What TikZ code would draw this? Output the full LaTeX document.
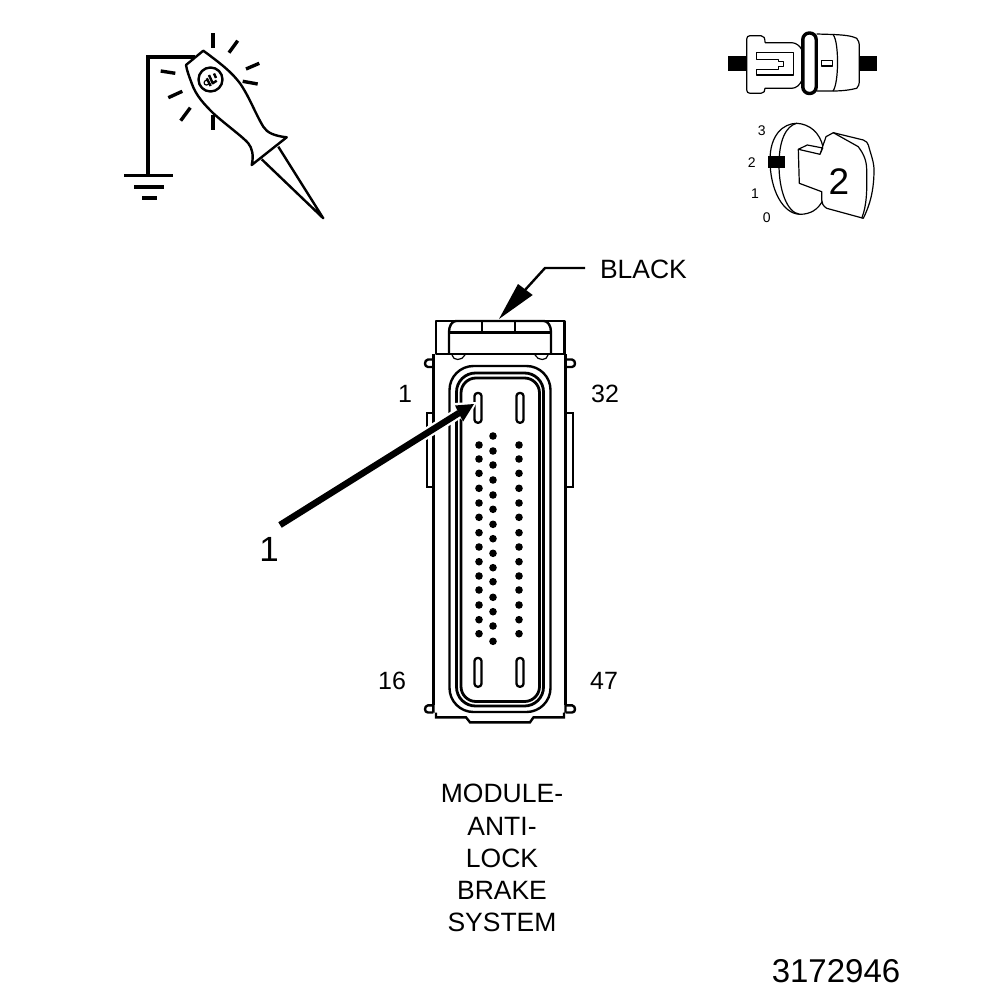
\documentclass[tikz,border=0pt]{standalone}
\usepackage{fontspec}
\setmainfont{Liberation Sans}
\tikzset{
  thinln/.style={draw=black,line width=1.2pt},
  medln/.style={draw=black,line width=2.4pt},
  heavyln/.style={draw=black,line width=3.4pt},
  ray/.style={draw=black,line width=3.4pt},
  pin/.style={circle,fill=black,minimum size=7.6pt,inner sep=0pt,outer sep=0pt},
  slot/.style={draw=black,line width=2.3pt,fill=white,rounded corners=3pt},
  lab/.style={inner sep=0pt,outer sep=0pt,align=center},
  fs/.style={font=\fontsize{#1}{#1}\selectfont},
  block/.style={fill=black,draw=none}
}
\begin{document}
\begin{tikzpicture}[x=1pt,y=-1pt,line join=round]
\useasboundingbox (0,0) rectangle (1008,1000);
\fill[white] (0,0) rectangle (1008,1000);

% --- test lamp ---
\draw[heavyln,line join=miter] (148,175.7) -- (148,57) -- (195,57);
\draw[heavyln] (124,175.7) -- (173,175.7);
\draw[heavyln] (134,187) -- (164,187);
\draw[heavyln] (142,198) -- (157,198);
\draw[medln,fill=white] (186,65) -- (203.3,50.7)
  .. controls (225,66.7) and (232,73) .. (240,83.3)
  .. controls (250,98) and (255,113) .. (263.3,126.7)
  .. controls (267,133) and (275,136) .. (286.7,137.3)
  -- (251.7,165)
  .. controls (254,155) and (252,148) .. (248.3,143.3)
  .. controls (243,137) and (225,124) .. (213.3,113.3)
  .. controls (205,105) and (196,96) .. (191.7,83.3)
  .. controls (189,76) and (187,71) .. (186,65) -- cycle;
\draw[medln] (278.3,146.7) -- (323.3,218.3) -- (261.7,159.3);
\draw[medln] (210.5,79.5) circle[radius=12];
\draw[medln] (209,75) -- (212.7,83.3) -- (216.7,80.7);
\draw[medln] (206.7,78.3) -- (210.7,86);
\draw[medln] (214,73.5) -- (216,78);
\draw[thinln] (206.5,82.7) circle[radius=2.4];
\foreach \xa/\ya/\xb/\yb in {213/33.3/213/48.3, 237.7/40.7/229/52.7, 259.3/63.3/246/69,
  257.7/84/242.7/81.3, 160.7/71/175.3/73.3, 182.3/91.3/168.3/97.7,
  190.3/107.7/180.7/120.7, 213/115/213/130}
  \draw[ray] (\xa,\ya) -- (\xb,\yb);

% --- connector icon ---
\fill[block] (728,56) rectangle (747,70.7);
\fill[block] (859,56) rectangle (877,70.7);
\draw[thinln] (765,42.7) .. controls (765,38) and (764,35.7) .. (761,35.7) -- (750,35.7)
  .. controls (748,35.7) and (746.7,37) .. (746.7,39) -- (746.7,90)
  .. controls (746.7,92) and (748,93.3) .. (750,93.3) -- (761,93.3)
  .. controls (764,93.3) and (765,91) .. (765,88.3) -- (791.7,88.3)
  .. controls (796,88.3) and (800,85) .. (802,80);
\draw[thinln] (765,42.7) -- (791.7,42.7) .. controls (796,42.7) and (800,46) .. (802,50);
\draw[thinln] (756.7,52.7) -- (793.3,52.7) -- (793.3,75) -- (756.7,75) -- (756.7,69.3)
  -- (778.3,69.3) -- (778.3,66.7) -- (783.3,66.7) -- (783.3,61.7) -- (778.3,61.7)
  -- (778.3,59.3) -- (756.7,59.3) -- cycle;
\draw[thinln,fill=white] (816.7,34) -- (833,34.5) .. controls (845,35) and (852,36) .. (856.7,38.3)
  .. controls (858.5,40) and (859.3,43) .. (859.3,46.7) -- (859.3,80)
  .. controls (859.3,84) and (858.5,87) .. (856.7,88.3)
  .. controls (850,90) and (842,91) .. (833,91) -- (816.7,91);
\draw[thinln] (833.3,35) .. controls (839,42) and (839,83) .. (833,91);
\draw[thinln] (821.7,60.7) rectangle (832.7,66);
\draw[heavyln,fill=white,rounded corners=6.5pt] (802.8,33) rectangle (816.2,93.5);

% --- key icon ---
\draw[thinln] (796.7,123.3) .. controls (783,123.5) and (770,135) .. (770,160)
  .. controls (770,190) and (783,214) .. (800,214.3);
\draw[thinln,fill=white] (796.7,123.3) .. controls (810,124) and (820,133) .. (823,147)
  -- (823,200) .. controls (818,210) and (810,214.3) .. (800,214.3)
  .. controls (787,213) and (779,190) .. (779,165)
  .. controls (779,140) and (786,126) .. (796.7,123.3);
\fill[block] (768.3,156) rectangle (785,168.3);
\draw[thinln,fill=white] (798.3,149.3) -- (807.3,145) -- (822.7,148) -- (820,154.3)
  -- (826,136.7) -- (833.3,132.7) -- (863.3,140) .. controls (866,141) and (868,143) .. (868.3,145)
  .. controls (871,155) and (874,162) .. (874,170)
  .. controls (874,190) and (870,205) .. (863.3,218.3) -- (826.7,208.3)
  .. controls (823,206) and (821.7,203) .. (821.7,200) -- (821.7,191.7) -- (799.3,183.3) -- cycle;
\draw[thinln] (798.3,149.3) -- (820,154.3);
\draw[thinln] (833.3,132.7) -- (858.3,146.7) .. controls (863,153) and (866.7,160) .. (866.7,170)
  .. controls (867,190) and (867,205) .. (861.7,218.3);
\node[lab,fs=14] (k3) at (761.7,131) {3};
\node[lab,fs=14] (k2) at (751.7,162.7) {2};
\node[lab,fs=14] (k1) at (755,193.3) {1};
\node[lab,fs=14] (k0) at (766.7,218) {0};
\node[lab,fs=37] (k) at (839,182) {2};

% --- module connector ---
\draw[medln,line join=miter] (433.3,354) -- (433.3,705);
\draw[medln,line join=miter] (565.5,354) -- (565.5,705);
\draw[medln,fill=white] (435.7,320.7) rectangle (564.3,354);
\draw[medln] (449,354) -- (449,332) .. controls (449,326) and (452,321) .. (456,321)
  -- (544,321) .. controls (548,321) and (551,326) .. (551,332) -- (551,354);
\draw[medln] (449,332.3) -- (551,332.3);
\draw[medln] (481.7,321) -- (481.7,332.3);
\draw[medln] (515,321) -- (515,332.3);
% locating bumps under the hood
\draw[thinln] (452,355) .. controls (453,361) and (462,361) .. (465,355);
\draw[thinln] (535,355) .. controls (538,361) and (547,361) .. (548,355);
% ears
\draw[medln] (433.3,359.5) -- (428,359.5) .. controls (424,360) and (424,367) .. (428,367) -- (433.3,367);
\draw[medln] (565.5,359.5) -- (572,359.5) .. controls (576,360) and (576,367) .. (572,367) -- (565.5,367);
\draw[medln] (433.3,705.3) -- (428,705.3) .. controls (424,706) and (424,712.5) .. (428,712.5) -- (433.3,712.5);
\draw[medln] (565.5,705.3) -- (572,705.3) .. controls (576,706) and (576,712.5) .. (572,712.5) -- (565.5,712.5);
% bottom step
\draw[medln,line join=miter] (433.3,705) -- (433.3,712.5) (436,712.5) -- (436,717.3) -- (466,717.3) -- (470,722.3) -- (530,722.3)
  -- (533.5,717.3) -- (564,717.3) -- (564,712.5) (565.5,712.5) -- (565.5,705);
% side tabs
\draw[medln,line join=miter] (433.3,413) -- (427,413) -- (427,487) -- (433.3,487);
\draw[medln,line join=miter] (565.5,413) -- (573,413) -- (573,487) -- (565.5,487);
% gasket
\draw[medln,rounded corners=24pt] (449.5,366) rectangle (550.5,712);
\draw[line width=2.8pt,rounded corners=19pt] (456.5,373) rectangle (543.5,706);
\draw[line width=2.8pt,rounded corners=15pt] (461,378) rectangle (539.5,701.5);

% pins
\foreach \py in {445,459,473.3,488.3,503,517.3,532.7,547,561.7,576,590,605,619.7,633.7}{
  \node[pin] at (479,\py) {};
  \node[pin] at (519,\py) {};
}
\foreach \py in {436,451,465,480,495,509.3,524.3,538.7,553.3,567.7,581.7,597.3,611.7,626,641.3}
  \node[pin] at (493,\py) {};
\foreach \sx in {478,520}{
  \draw[slot] (\sx-3.5,393) rectangle (\sx+3.5,422.7);
  \draw[slot] (\sx-3.5,658) rectangle (\sx+3.5,686.7);
}

% --- labels ---
\node[lab,fs=26.5,anchor=west] (black) at (600,269) {BLACK};
\node[lab,fs=25] (n1) at (405,394) {1};
\node[lab,fs=25] (n32) at (605,394) {32};
\node[lab,fs=25] (n16) at (392,681) {16};
\node[lab,fs=25] (n47) at (604,681) {47};
\node[lab,fs=35] (one) at (269,549) {1};
\node[lab,fs=26.5] (m1) at (502,793) {MODULE-};
\node[lab,fs=26.5] (m2) at (502,826) {ANTI-};
\node[lab,fs=26.5] (m3) at (502,858) {LOCK};
\node[lab,fs=26.5] (m4) at (502,890) {BRAKE};
\node[lab,fs=26.5] (m5) at (502,922) {SYSTEM};
\node[lab,fs=33] (num) at (836,971) {3172946};

% --- arrows ---
\coordinate (a1s) at (280,525);
\coordinate (a1m) at (459,413);
\coordinate (a1t) at (474,404);
\draw[white,line width=11pt] (a1s) -- (a1m);
\fill[white] (451,403) -- (477,402) -- (465,425) -- cycle;
\draw[line width=6.5pt] (a1s) -- (a1m);
\fill[black] (a1t) -- (455,405.5) -- (463,421.7) -- cycle;
\coordinate (b1) at (585,268);
\coordinate (b2) at (545,268);
\coordinate (b3) at (525,290);
\coordinate (bt) at (499,319);
\draw[medln,line join=miter] (b1) -- (b2) -- (b3);
\fill[black] (bt) -- (518,284) -- (532.7,295) -- cycle;
\end{tikzpicture}
\end{document}
